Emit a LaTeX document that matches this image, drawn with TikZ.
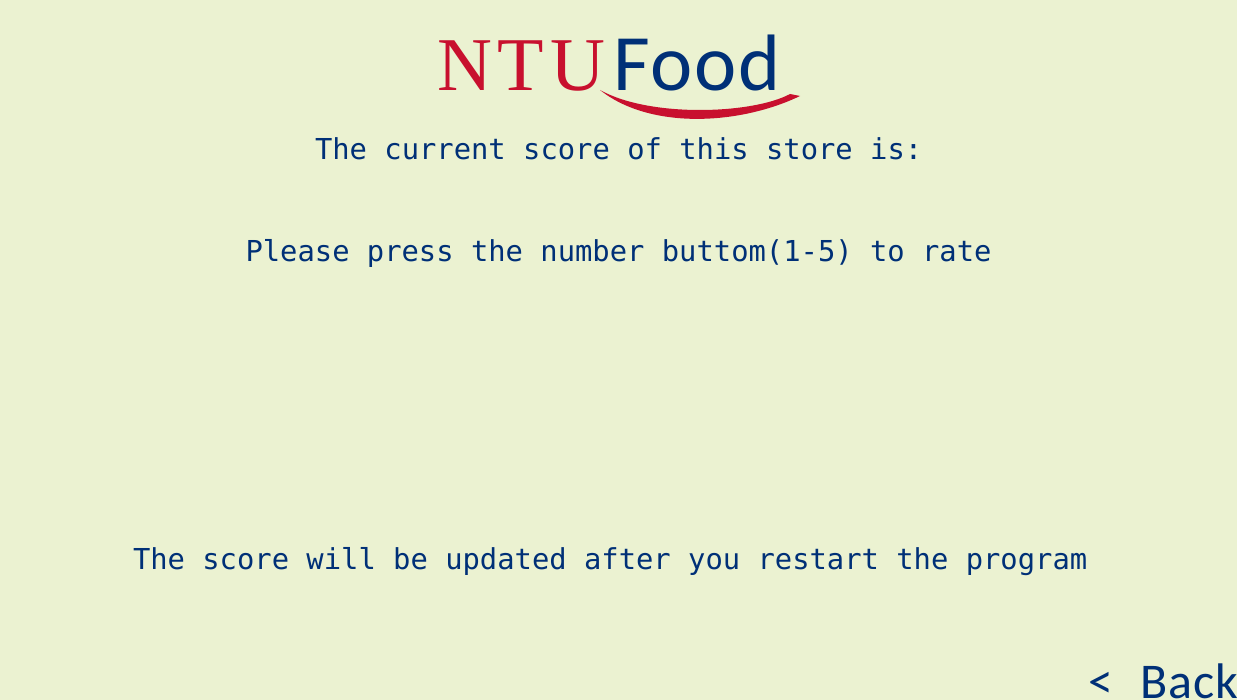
\documentclass[tikz,border=0pt]{standalone}
\usepackage{fontspec}
\setmainfont[LetterSpace=8]{Liberation Serif}
\newfontfamily\monof{DejaVu Sans Mono}
\newfontfamily\backf[WordSpace=2.3,LetterSpace=1.5]{Carlito}
\newfontfamily\foodf[LetterSpace=2.2]{Carlito}
\definecolor{bgc}{HTML}{EBF2D1}
\definecolor{navy}{HTML}{003077}
\definecolor{logored}{HTML}{C8102E}
\begin{document}
\begin{tikzpicture}[x=1pt,y=-1pt,
  every node/.style={inner sep=0pt,outer sep=0pt},
  msg/.style={anchor=base west,text=navy,font=\monof\fontsize{28.82}{30}\selectfont},
  ntu/.style={anchor=base west,text=logored,font=\fontsize{76}{80}\selectfont},
  food/.style={anchor=base west,text=navy,font=\foodf\fontsize{80}{86}\selectfont},
  back/.style={anchor=base east,text=navy,font=\backf\fontsize{50}{60}\selectfont}]
\useasboundingbox (0,0) rectangle (1237,700);
\fill[bgc] (0,0) rectangle (1237,700);
\node[ntu] (ntutext) at (437,91) {NTU};
\node[food] (foodtext) at (613,91) {Food};
\fill[logored] (600,90) .. controls (650,118) and (753,114) .. (790,94)
  -- (800,96) .. controls (740,125) and (650,130) .. (600,90) -- cycle;
\node[msg] (score) at (315,160) {The current score of this store is:};
\node[msg] (rate) at (245.5,262) {Please press the number buttom(1-5) to rate};
\node[msg] (update) at (133,569) {The score will be updated after you restart the program};
\node[back] (backlink) at (1238,698.5) {< Back};
\end{tikzpicture}
\end{document}
